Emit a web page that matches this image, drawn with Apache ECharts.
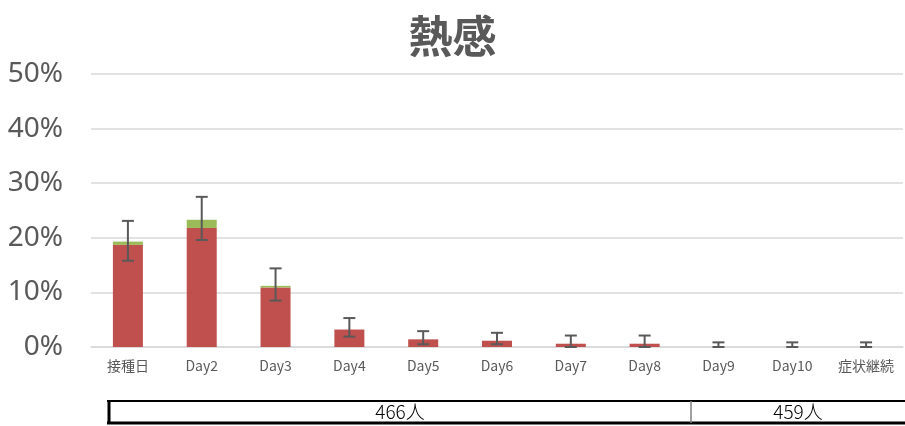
<!DOCTYPE html>
<html><head><meta charset="utf-8">
<script src="https://cdn.jsdelivr.net/npm/echarts@6/dist/echarts.min.js"></script>
<style>html,body{margin:0;padding:0;background:#fff}#c{width:905px;height:426px}</style>
</head><body><div id="c"></div>
<script>
const categories = ['接種日','Day2','Day3','Day4','Day5','Day6','Day7','Day8','Day9','Day10','症状継続'];
const redValues = [18.7, 21.8, 10.9, 3.2, 1.4, 1.15, 0.6, 0.6, 0, 0, 0];
const greenValues = [0.6, 1.5, 0.3, 0, 0, 0, 0, 0, 0, 0, 0];
const errLower = [15.8, 19.6, 8.5, 1.9, 0.5, 0.5, 0, 0, 0, 0, 0];
const errUpper = [23.1, 27.5, 14.4, 5.3, 2.9, 2.6, 2.1, 2.1, 0.85, 0.85, 0.85];
const yTicks = [0, 10, 20, 30, 40, 50];
const tableLabels = ['466人', '459人'];

const chart = echarts.init(document.getElementById('c'));
const errData = categories.map((c, i) => [i, errLower[i], errUpper[i]]);
const gray = '#595959';

chart.setOption({
  animation: false,
  title: {
    text: '熱感', left: 'center', top: 9,
    textStyle: { fontSize: 44, fontWeight: 'bold', color: gray, fontFamily: 'Noto Sans CJK JP' }
  },
  grid: { left: 91, right: 2, top: 74, bottom: 79 },
  xAxis: {
    type: 'category', data: categories,
    axisLine: { lineStyle: { color: '#d9d9d9', width: 1.5 } },
    axisTick: { show: false },
    axisLabel: { color: gray, fontSize: 14, margin: 12, fontFamily: 'Noto Sans CJK JP' }
  },
  yAxis: {
    type: 'value', min: yTicks[0], max: yTicks[yTicks.length - 1], interval: 10,
    axisLine: { show: false }, axisTick: { show: false },
    axisLabel: { color: gray, fontSize: 28, margin: 28, formatter: '{value}%', fontFamily: 'Noto Sans' },
    splitLine: { lineStyle: { color: '#d9d9d9', width: 1.5 } }
  },
  series: [
    { type: 'bar', stack: 's', data: redValues, barWidth: 30, itemStyle: { color: '#C0504D' } },
    { type: 'bar', stack: 's', data: greenValues, barWidth: 30, itemStyle: { color: '#9BBB59' } },
    {
      type: 'custom', data: errData, z: 10,
      renderItem: function (params, api) {
        const x = api.value(0);
        const lo = api.coord([x, api.value(1)]);
        const hi = api.coord([x, api.value(2)]);
        const hw = 6;
        const style = { stroke: gray, lineWidth: 2 };
        return {
          type: 'group',
          children: [
            { type: 'line', shape: { x1: lo[0], y1: lo[1], x2: hi[0], y2: hi[1] }, style },
            { type: 'line', shape: { x1: hi[0] - hw, y1: hi[1], x2: hi[0] + hw, y2: hi[1] }, style },
            { type: 'line', shape: { x1: lo[0] - hw, y1: lo[1], x2: lo[0] + hw, y2: lo[1] }, style }
          ]
        };
      }
    }
  ],
  graphic: [
    { type: 'line', shape: { x1: 107, y1: 401, x2: 905, y2: 401 }, style: { stroke: '#000', lineWidth: 2 } },
    { type: 'line', shape: { x1: 107, y1: 423, x2: 905, y2: 423 }, style: { stroke: '#000', lineWidth: 3 } },
    { type: 'line', shape: { x1: 109, y1: 400, x2: 109, y2: 424 }, style: { stroke: '#000', lineWidth: 3 } },
    { type: 'line', shape: { x1: 691, y1: 401, x2: 691, y2: 423 }, style: { stroke: '#808080', lineWidth: 1.5 } },
    { type: 'text', x: 400, y: 412, style: { text: tableLabels[0], fill: '#000', fontSize: 19, align: 'center', verticalAlign: 'middle', fontFamily: 'Noto Sans CJK JP', fontWeight: 300 } },
    { type: 'text', x: 798, y: 412, style: { text: tableLabels[1], fill: '#000', fontSize: 19, align: 'center', verticalAlign: 'middle', fontFamily: 'Noto Sans CJK JP', fontWeight: 300 } }
  ]
});
</script></body></html>
